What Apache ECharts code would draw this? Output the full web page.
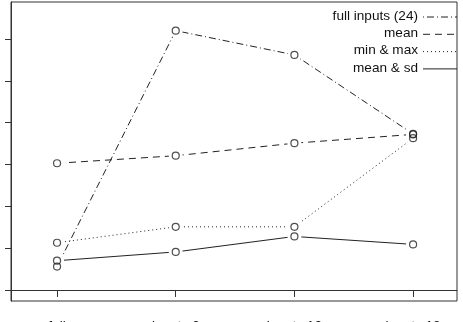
<!DOCTYPE html>
<html>
<head>
<meta charset="utf-8">
<style>
  html, body { margin: 0; padding: 0; background: #fff; }
  #main { width: 463px; height: 322px; }
</style>
<script src="https://cdn.jsdelivr.net/npm/echarts@6/dist/echarts.min.js"></script>
</head>
<body>
<div id="main"></div>
<script>
// x positions and their labels
var xPos = [1, 2, 3, 4];
var xLabels = ['full', 'inputs 6', 'inputs 12', 'inputs 18'];
var yTicks = [0, 1, 2, 3, 4, 5, 6];

// series values
var fullInputs = [0.56, 6.20, 5.62, 3.73];
var meanOnly   = [3.03, 3.21, 3.51, 3.72];
var minMax     = [1.13, 1.51, 1.51, 3.63];
var meanSd     = [0.70, 0.91, 1.28, 1.09];

var names = ['full inputs (24)', 'mean', 'min & max', 'mean & sd'];
var values = [fullInputs, meanOnly, minMax, meanSd];
var dashes = [[1, 3, 7, 3], [7, 5], [1, 3], 'solid'];

var ink = '#222';
var font = 'Liberation Sans, Arial, sans-serif';

function pairs(v) {
    return xPos.map(function (x, i) { return [x, v[i]]; });
}

var chart = echarts.init(document.getElementById('main'));

var series = [];
// lines, with a white halo at each point so the line stops short of the circle
values.forEach(function (v, i) {
    series.push({
        name: names[i],
        type: 'line',
        data: pairs(v),
        symbol: 'circle',
        symbolSize: 14,
        itemStyle: { color: '#fff', borderWidth: 0 },
        lineStyle: { color: ink, width: 1, type: dashes[i] },
        z: 2,
        silent: true
    });
});
// open circles on top
values.forEach(function (v, i) {
    series.push({
        type: 'scatter',
        data: pairs(v),
        symbol: 'circle',
        symbolSize: 7,
        itemStyle: { color: 'rgba(0,0,0,0)', borderColor: ink, borderWidth: 1.2 },
        z: 5,
        silent: true
    });
});

// legend drawn by hand: right-aligned text, line sample to the right
var legendItems = [];
names.forEach(function (n, i) {
    var y = 17 + i * 17.3;
    legendItems.push({
        type: 'text', right: 45, top: y - 8,
        style: { text: n, font: '13.6px ' + font, fill: '#111', textAlign: 'right' }
    });
    legendItems.push({
        type: 'line',
        shape: { x1: 423, y1: y, x2: 457, y2: y },
        style: { stroke: ink, lineWidth: 1, lineDash: dashes[i] === 'solid' ? null : dashes[i] }
    });
});

var option = {
    animation: false,
    backgroundColor: '#fff',
    grid: {
        left: 11, right: 6, top: 2, bottom: 21,
        containLabel: false,
        outerBoundsMode: 'none',
        show: true, borderColor: '#333', borderWidth: 1
    },
    xAxis: {
        type: 'value',
        min: 0.612, max: 4.37,
        axisLine: { show: true, lineStyle: { color: '#333' } },
        axisTick: { show: true, customValues: xPos, length: 7, lineStyle: { color: '#333' } },
        axisLabel: {
            customValues: xPos, margin: 18, fontSize: 13.6, fontFamily: font, color: '#111',
            formatter: function (v) { return xLabels[v - 1]; }
        },
        splitLine: { show: false }
    },
    yAxis: {
        type: 'value',
        min: -0.263, max: 6.885,
        axisLine: { show: true, lineStyle: { color: '#333' } },
        axisTick: { show: true, customValues: yTicks, length: 6, lineStyle: { color: '#333' } },
        axisLabel: { show: false },
        splitLine: { show: false }
    },
    graphic: legendItems,
    series: series
};

chart.setOption(option);
</script>
</body>
</html>
